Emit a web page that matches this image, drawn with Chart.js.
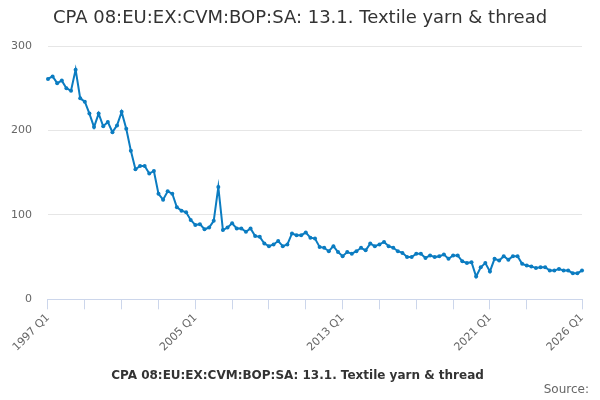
<!DOCTYPE html>
<html>
<head>
<meta charset="utf-8">
<script src="https://cdn.jsdelivr.net/npm/chart.js@4/dist/chart.umd.min.js"></script>
<style>
  html, body { margin: 0; padding: 0; background: #fff; }
  #wrap { width: 600px; height: 400px; }
</style>
</head>
<body>
<div id="wrap"><canvas id="mycanvas"></canvas></div>
<script>
// quarters 1997 Q1 .. 2026 Q1
var firstYear = 1997;
var quarters = [];
for (var i = 0; i < 117; i++) {
  quarters.push((firstYear + Math.floor(i / 4)) + " Q" + (i % 4 + 1));
}

var values = [
  261, 264, 256, 259, 250, 247, 272, 238, 234, 220,
  204, 220, 205, 210, 198, 206, 222, 202, 176, 154,
  158, 158, 149, 152, 125, 118, 128, 125, 109, 105,
  103, 94, 88, 89, 83, 85, 93, 133, 82, 85,
  90, 84, 84, 80, 84, 75, 74, 66, 63, 65,
  69, 63, 65, 78, 76, 76, 79, 73, 72, 62,
  61, 57, 63, 56, 51, 56, 54, 57, 61, 58,
  66, 63, 65, 68, 63, 61, 57, 55, 50, 50,
  54, 54, 49, 52, 50, 51, 53, 48, 52, 52,
  45, 43, 44, 27, 38, 43, 33, 48, 46, 51,
  47, 51, 51, 42, 40, 39, 37, 38, 38, 34,
  34, 36, 34, 34, 31, 31, 34
];

var tickLabels = ["1997 Q1", "2005 Q1", "2013 Q1", "2021 Q1", "2026 Q1"];
var yTicks = [0, 100, 200, 300];
var seriesName = "CPA 08:EU:EX:CVM:BOP:SA: 13.1. Textile yarn & thread";
var sourceText = "Source:";

var blue = "#0b7cc1";
var font = "'DejaVu Sans', sans-serif";

// title and source line drawn by hand so they sit where the original has them
var textPlugin = {
  id: "texts",
  afterDraw: function(chart) {
    var c = chart.ctx;
    c.save();
    c.fillStyle = "#333333";
    c.font = "18px " + font;
    c.textAlign = "center";
    c.textBaseline = "middle";
    c.fillText(seriesName, 300, 18);
    c.fillStyle = "#666666";
    c.font = "12px " + font;
    c.textAlign = "right";
    c.fillText(sourceText, 589, 390);
    c.restore();
  }
};

var ctx = document.getElementById("mycanvas");

var LineGraph = new Chart(ctx, {
  type: "line",
  data: {
    labels: quarters,
    datasets: [{
      label: seriesName,
      data: values,
      borderColor: blue,
      backgroundColor: blue,
      borderWidth: 2,
      pointRadius: 2,
      pointHoverRadius: 3,
      pointBackgroundColor: blue,
      pointBorderWidth: 0,
      tension: 0,
      fill: false
    }]
  },
  options: {
    responsive: true,
    maintainAspectRatio: false,
    animation: false,
    layout: { padding: { left: -5, right: 18, top: 46, bottom: 8 } },
    plugins: {
      title: { display: false },
      legend: {
        position: "bottom",
        labels: {
          color: "#333333",
          font: { family: font, size: 12, weight: "bold" },
          usePointStyle: true,
          pointStyle: "line",
          boxWidth: 16,
          padding: 14
        }
      },
      tooltip: { enabled: false }
    },
    scales: {
      x: {
        type: "category",
        offset: false,
        afterBuildTicks: function(scale) {
          var t = [];
          for (var v = 0; v <= 104; v += 8) t.push({ value: v });
          t.push({ value: 116 });
          scale.ticks = t;
        },
        ticks: {
          autoSkip: false,
          minRotation: 45,
          maxRotation: 45,
          color: "#666666",
          font: { family: font, size: 11 },
          padding: 2,
          callback: function(v) {
            var q = quarters[v];
            return tickLabels.indexOf(q) >= 0 ? q : "";
          }
        },
        grid: {
          drawOnChartArea: false,
          drawTicks: true,
          tickLength: 10,
          color: "#ccd6eb"
        },
        border: { color: "#ccd6eb", width: 1 }
      },
      y: {
        min: 0,
        max: 300,
        afterBuildTicks: function(scale) {
          scale.ticks = yTicks.map(function(v) { return { value: v }; });
        },
        ticks: {
          color: "#666666",
          font: { family: font, size: 11 },
          padding: 16
        },
        grid: {
          color: "#e6e6e6",
          drawTicks: false
        },
        border: { display: false }
      }
    }
  },
  plugins: [textPlugin]
});
</script>
</body>
</html>
